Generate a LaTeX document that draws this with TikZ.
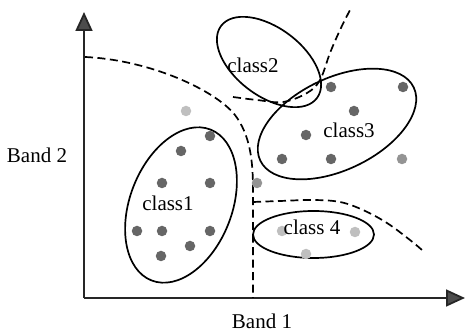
\documentclass[tikz,border=0pt]{standalone}
\usepackage{fontspec}
\setmainfont{Liberation Serif}
\usetikzlibrary{arrows.meta}
\begin{document}
\begin{tikzpicture}[x=1pt,y=1pt,
  axis/.style={line width=1.8pt, draw=black!85, -{Triangle[length=19pt,width=17pt,fill=black!70]}},
  bound/.style={line width=1.7pt, dash pattern=on 8pt off 4.5pt},
  cls/.style={line width=1.7pt},
  lbl/.style={font=\fontsize{21}{25}\selectfont, inner sep=0pt},
  ddot/.style={circle, fill=black!60, minimum size=10.5pt, inner sep=0pt},
  mdot/.style={circle, fill=black!42, minimum size=10.5pt, inner sep=0pt},
  ldot/.style={circle, fill=black!25, minimum size=10.5pt, inner sep=0pt}]
\useasboundingbox (0,0) rectangle (465,334);
% axes
\coordinate (origin) at (84,36);
\coordinate (ytip) at (84,322);
\coordinate (xtip) at (465,36);
\draw[axis] (origin) -- (ytip);
\draw[axis] (origin) -- (xtip);
\node[lbl] (band2) at (37,179) {Band 2};
\node[lbl] (band1) at (262,13) {Band 1};
% decision boundaries
\draw[bound] (85,277) .. controls (150,274) and (215,244) .. (235,219)
  .. controls (250,199) and (253,174) .. (253,144) -- (253,36);
\draw[bound] plot[smooth, tension=0.6] coordinates {(253,132) (280,133) (313,134) (340,132) (363,124) (387,111) (410,94) (422,84)};
\draw[bound] plot[smooth, tension=0.6] coordinates {(233,237) (257,234) (283,232) (307,241) (320,254) (330,281) (340,304) (350,324)};
% class ellipses
\draw[cls, rotate around={-37:(269,272)}] (269,272) ellipse [x radius=60, y radius=34];
\draw[cls, rotate around={25.5:(337,210)}] (337,210) ellipse [x radius=85, y radius=46];
\draw[cls, rotate around={68.7:(181,129)}] (181,129) ellipse [x radius=81, y radius=51];
\draw[cls] (313.5,99.5) ellipse [x radius=60.5, y radius=23.5];
% samples
\node[ddot] (a1) at (210,198) {};
\node[ddot] (a2) at (181,183) {};
\node[ddot] (a3) at (162,151) {};
\node[ddot] (a4) at (210,151) {};
\node[ddot] (a5) at (137,103) {};
\node[ddot] (a6) at (162,103) {};
\node[ddot] (a7) at (210,103) {};
\node[ddot] (a8) at (190,88) {};
\node[ddot] (a9) at (161,78) {};
\node[ddot] (b1) at (331,247) {};
\node[ddot] (b2) at (403,247) {};
\node[ddot] (b3) at (354,223) {};
\node[ddot] (b4) at (306,199) {};
\node[ddot] (b5) at (282,175) {};
\node[ddot] (b6) at (331,175) {};
\node[mdot] (b7) at (402,175) {};
\node[mdot] (m1) at (257,151) {};
\node[ldot] (l1) at (186,223) {};
\node[ldot] (c1) at (282,103) {};
\node[ldot] (c2) at (355,102) {};
\node[ldot] (c3) at (306,80) {};
% class labels
\node[lbl] (t1) at (168,131) {class1};
\node[lbl] (t2) at (253,269) {class2};
\node[lbl] (t3) at (349,204) {class3};
\node[lbl] (t4) at (312,107) {class 4};
\end{tikzpicture}
\end{document}
